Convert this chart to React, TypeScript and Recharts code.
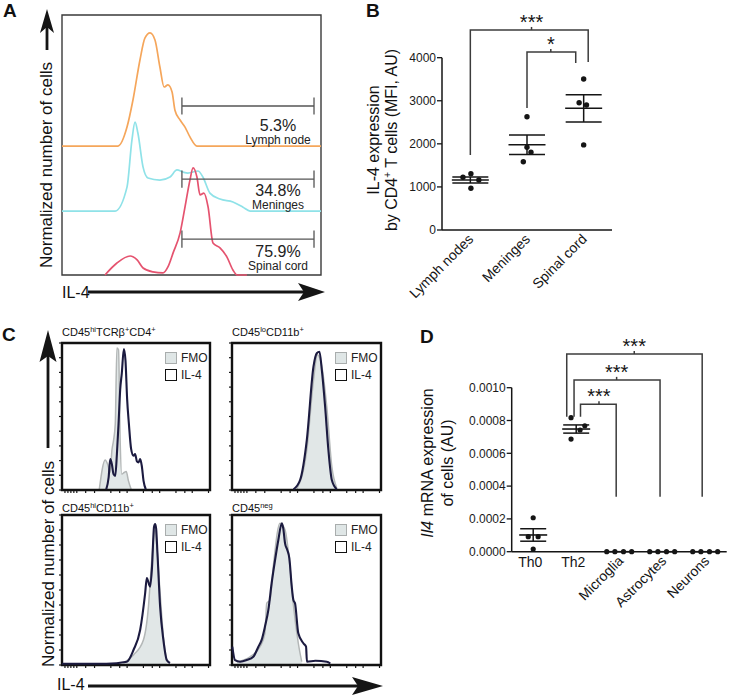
import React from "react";
import {
  ComposedChart,
  Line,
  Area,
  Scatter,
  XAxis,
  YAxis,
  ErrorBar,
  ReferenceArea,
  ReferenceLine,
  Legend,
} from "recharts";

const FONT = "'Liberation Sans', Arial, Helvetica, sans-serif";
const INK = "#151515";

/* ---------------- Panel A : IL-4 histograms (channel 0-1000, % of cells) ---------------- */
const aSampleNames = ["Lymph node", "Meninges", "Spinal cord"];
const aPercents = ["5.3%", "34.8%", "75.9%"];
const aOffsets = [49.6, 24.6, 0];
const aColors = ["#f5a65b", "#8fe2e8", "#e5536f"];
const lymphNodeHist = [
  [0, 0], [216, 0], [251, 7.3], [274, 17.7], [301, 33.1], [320, 41.5], [340, 43.5],
  [359, 40.8], [378, 30.4], [394, 22.7], [409, 23.5], [425, 20.8], [436, 13.8],
  [456, 10.0], [475, 7.3], [494, 3.5], [521, 0], [1000, 0],
];
const meningesHist = [
  [0, 0], [205, 0], [251, 9.2], [270, 27.3], [282, 34.2], [293, 30.0], [313, 16.9],
  [332, 12.7], [378, 11.9], [417, 13.1], [444, 15.8], [467, 15.0], [486, 14.6],
  [525, 15.4], [544, 13.1], [571, 6.9], [610, 4.6], [660, 3.5], [699, 1.5], [726, 0], [1000, 0],
];
const spinalCordHist = [
  [166, 0], [212, 4.6], [263, 7.3], [290, 5.8], [313, 2.7], [351, 1.2], [390, 0.8],
  [409, 3.1], [429, 8.5], [456, 16.2], [475, 26.2], [494, 36.5], [506, 41.2], [521, 37.7],
  [533, 30.8], [548, 31.5], [564, 26.2], [583, 12.3], [610, 10.4], [637, 6.9], [660, 1.9],
  [676, 0], [714, 0],
];
const aHists = [lymphNodeHist, meningesHist, spinalCordHist];
const aGateBounds = [463, 973];
const aGateLevels = [65.0, 36.9, 13.8];
const aLabelChannel = 834;

/* ---------------- Panel B : IL-4 MFI ---------------- */
const bCategories = ["Lymph nodes", "Meninges", "Spinal cord"];
const bLymphNodes = [1225, 1305, 1160, 970];
const bMeninges = [2630, 1920, 1805, 1585];
const bSpinalCord = [3505, 2955, 2900, 1975];
const bJitter = [
  [-0.13, 0.01, 0.15, 0.01],
  [0, 0, 0.07, -0.065],
  [0, -0.08, 0.05, 0],
];
const bMeans = [1160, 1980, 2825];
const bSem = [70, 225, 317];
const bYTicks = [0, 1000, 2000, 3000, 4000];
const bBracketFrom = [1.0, 2.0];
const bBracketTo = [3.08, 2.86];
const bBracketTop = [4643, 4132];
const bBracketLeftEnd = [1741, 2832];
const bBracketRightEnd = [3900, 3877];
const bBracketMid = [2.08, 2.42];
const bBracketStars = ["***", "*"];

/* ---------------- Panel C : FMO vs IL-4 histograms (% of box) ---------------- */
const cSeriesNames = ["FMO", "IL-4"];
const tcellFmo = [
  [25.2, 0.5], [29.2, 20.4], [30.8, 17.6], [32.6, 11.9], [33.7, 26.8], [34.8, 33.6], [36, 45],
  [37.1, 96.6], [38.2, 95.4], [39.3, 33.6], [40.4, 10.8], [42, 11.9], [43.4, 12.6], [44.9, 6.2], [46.7, 0.5],
];
const tcellIl4 = [
  [29.9, 0.5], [31.5, 8.5], [32.6, 21], [33.7, 17.6], [34.8, 10.8], [36, 9.6], [37.1, 24.5],
  [38.2, 45], [39.3, 68], [40.4, 79.4], [41.8, 95.9], [42.9, 88], [44, 62], [45.2, 45],
  [46.7, 28], [48.3, 23.3], [49.4, 24.5], [50.6, 19.5], [51.7, 18.8], [52.8, 21], [53.9, 16.5],
  [55.1, 6.2], [56.6, 0.5],
];
const loMicrogliaFmo = [
  [43.5, 0.7], [50.2, 27.2], [54.7, 74.8], [57.3, 92], [60.3, 84], [63.6, 56.7], [67, 15.9], [70.3, 1.4],
];
const loMicrogliaIl4 = [
  [41.3, 0.5], [45.7, 6.8], [50.2, 34], [54.7, 84], [56.9, 93], [58.7, 94], [60.3, 81.6],
  [62.5, 56.7], [64.7, 27.2], [67, 6.8], [70.3, 0.5],
];
const hiMacroFmo = [
  [41.5, 1.3], [48.3, 6.7], [55, 16.7], [58.4, 38.9], [60, 61.1], [61.8, 83.3], [62.9, 90],
  [64.1, 78.9], [66.3, 47.8], [68.5, 18.9], [70.8, 2.2],
];
const hiMacroIl4 = [
  [0, 0.8], [30, 0.8], [43.8, 2.2], [48.3, 10], [52.8, 23.3], [56.2, 48], [57.3, 58], [59.5, 52.2],
  [60.7, 63.3], [62.2, 92.2], [62.9, 94], [63.6, 91], [64.5, 74.5], [66.3, 38.9], [68.5, 16.7],
  [70.8, 3.3], [73, 1.3],
];
const negFmo = [
  [3.2, 2.2], [12.1, 5.5], [18.8, 12.2], [22.1, 21.1], [23.3, 41.1], [25.5, 43.3], [27.7, 65.5],
  [32.2, 94.5], [35.6, 90], [38.9, 65.5], [41.1, 41.1], [44.5, 14.5], [46.8, 2.2],
];
const negIl4 = [
  [0.2, 12.2], [2, 3.3], [5.4, 2.2], [9.9, 3.3], [14.3, 5.5], [17.7, 12.2], [19.9, 16.7],
  [22.1, 25.5], [24.4, 36.7], [26.6, 54.5], [28.9, 70], [31.1, 83.3], [33.4, 94.5], [34.4, 91.1],
  [35.6, 81.1], [37.1, 76.7], [38.5, 71.1], [40.1, 52.2], [41.2, 43.3], [42.3, 41.1], [44.5, 21.1],
  [47.9, 14.5], [49.7, 12.2], [50.3, 2.2], [56, 2.8], [63.6, 2.2], [66, 1],
];
const cXTicks = [2, 4, 6, 8, 10, 16, 22, 33, 39, 44, 55, 61, 66, 77, 83, 88, 99];
const cYTicks = [0, 10, 20, 30, 40, 50, 60, 70, 80, 90, 100];

/* ---------------- Panel D : Il4 mRNA ---------------- */
const dCategories = ["Th0", "Th2", "Microglia", "Astrocytes", "Neurons"];
const dTh0 = [0.000207, 0.0000915, 0.0000915, 0.0000165];
const dTh2 = [0.000817, 0.000768, 0.000742, 0.000687];
const dMicroglia = [0, 0, 0, 0];
const dAstrocytes = [0, 0, 0, 0];
const dNeurons = [0, 0, 0, 0];
const dJitter = [
  [0, -0.115, 0.115, 0],
  [-0.12, 0.2, 0.09, -0.12],
  [-0.29, -0.1, 0.1, 0.29],
  [-0.29, -0.1, 0.1, 0.29],
  [-0.29, -0.1, 0.1, 0.29],
];
const dMeans = [0.000102, 0.000748, 0, 0, 0];
const dSem = [0.000038, 0.000025, 0, 0, 0];
const dYTicks = [0, 0.0002, 0.0004, 0.0006, 0.0008, 0.001];
const dBracketFrom = [2.1, 1.95, 1.78];
const dBracketTo = [2.93, 3.95, 4.93];
const dBracketTop = [0.000899, 0.001047, 0.001205];
const dBracketLeftEnd = [0.000823, 0.000823, 0.000823];
const dBracketRightEnd = [0.000335, 0.000335, 0.000335];
const dBracketMid = [2.53, 2.94, 3.35];
const dBracketStars = ["***", "***", "***"];

/* ---------------- helpers ---------------- */
const toXY = (pts: number[][]) => pts.map(([x, y]) => ({ x, y }));

const dotShape = (r: number) => (p: any) => <circle cx={p.cx} cy={p.cy} r={r} fill={INK} />;
const meanShape = (half: number) => (p: any) => (
  <line x1={p.cx - half} x2={p.cx + half} y1={p.cy} y2={p.cy} stroke={INK} strokeWidth={1.6} />
);
const starShape = (p: any) => (
  <text x={p.cx} y={p.cy - 1} textAnchor="middle" fontSize={20} fontFamily={FONT} fill={INK}>
    {p.payload.label}
  </text>
);
const noLabel = () => <g />;

function bracketSeries(
  from: number[], to: number[], top: number[], leftEnd: number[], rightEnd: number[],
  mid: number[], tick: number, keyPrefix: string
) {
  const out: any[] = [];
  from.forEach((f, i) => {
    out.push(
      <Line
        key={`${keyPrefix}b${i}`}
        data={[
          { x: f, y: leftEnd[i] },
          { x: f, y: top[i] },
          { x: to[i], y: top[i] },
          { x: to[i], y: rightEnd[i] },
        ]}
        dataKey="y"
        type="linear"
        stroke="#3c3c3c"
        strokeWidth={1.5}
        dot={false}
        activeDot={false}
        isAnimationActive={false}
      />
    );
    out.push(
      <Line
        key={`${keyPrefix}t${i}`}
        data={[
          { x: mid[i], y: top[i] },
          { x: mid[i], y: top[i] + tick },
        ]}
        dataKey="y"
        type="linear"
        stroke="#3c3c3c"
        strokeWidth={1.5}
        dot={false}
        activeDot={false}
        isAnimationActive={false}
      />
    );
  });
  return out;
}

/* ---------------- Panel A ---------------- */
function PanelA() {
  const labelDy = [[19, 34], [11, 26], [12, 27]];
  const gateTick = 3.3;
  return (
    <div style={{ position: "absolute", left: 0, top: 0 }}>
      <ComposedChart width={340} height={300} margin={{ top: 15, left: 62, right: 19, bottom: 25 }}>
        <XAxis type="number" dataKey="x" domain={[0, 1000]} hide />
        <YAxis type="number" dataKey="y" domain={[0, 100]} hide />
        <ReferenceArea x1={0} x2={1000} y1={0} y2={100} fill="none" fillOpacity={0} stroke="#3a3a3a" strokeWidth={1.4} />
        {aHists.map((h, i) => (
          <Line
            key={`h${i}`}
            data={h.map(([x, n]) => ({ x, y: aOffsets[i] + n }))}
            dataKey="y"
            type="monotone"
            stroke={aColors[i]}
            strokeWidth={1.7}
            dot={false}
            activeDot={false}
            isAnimationActive={false}
          />
        ))}
        {aGateLevels.map((g, i) => (
          <Line
            key={`g${i}`}
            data={[
              { x: aGateBounds[0], y: g + gateTick },
              { x: aGateBounds[0], y: g - gateTick },
              { x: aGateBounds[0], y: g },
              { x: aGateBounds[1], y: g },
              { x: aGateBounds[1], y: g + gateTick },
              { x: aGateBounds[1], y: g - gateTick },
            ]}
            dataKey="y"
            type="linear"
            stroke="#555"
            strokeWidth={1.3}
            dot={false}
            activeDot={false}
            isAnimationActive={false}
          />
        ))}
        <Scatter
          data={aGateLevels.map((g, i) => ({ x: aLabelChannel, y: g, i }))}
          isAnimationActive={false}
          shape={(p: any) => {
            const i = p.payload.i;
            return (
              <g>
                <text x={p.cx} y={p.cy + labelDy[i][0]} textAnchor="middle" dominantBaseline="central"
                  fontSize={16} fontFamily={FONT} fill="#222">{aPercents[i]}</text>
                <text x={p.cx} y={p.cy + labelDy[i][1]} textAnchor="middle" dominantBaseline="central"
                  fontSize={12} fontFamily={FONT} fill="#222">{aSampleNames[i]}</text>
              </g>
            );
          }}
        />
      </ComposedChart>
    </div>
  );
}

/* ---------------- Panel B ---------------- */
function PanelB() {
  const groups = [bLymphNodes, bMeninges, bSpinalCord];
  const dots = groups.flatMap((vals, gi) => vals.map((v, j) => ({ x: gi + 1 + bJitter[gi][j], y: v })));
  const means = bMeans.map((m, i) => ({ x: i + 1, y: m, sem: bSem[i] }));
  const stars = bBracketMid.map((m, i) => ({ x: m, y: bBracketTop[i], label: bBracketStars[i] }));
  const BTick = (p: any) => {
    const label = bCategories[Math.round(p.payload.value) - 1];
    const tx = p.x + 4;
    const ty = p.y + 10;
    return (
      <text x={tx} y={ty} textAnchor="end" transform={`rotate(-45 ${tx} ${ty})`}
        fontSize={14} fontFamily={FONT} fill={INK}>{label}</text>
    );
  };
  return (
    <div style={{ position: "absolute", left: 340, top: 0 }}>
      <ComposedChart width={392} height={340} margin={{ top: 14.6, left: 42, right: 120, bottom: 10 }}>
        <XAxis type="number" dataKey="x" domain={[0.5, 3.5]} ticks={[1, 2, 3]} interval={0}
          tickLine={false} tickSize={0} tickMargin={0} height={100}
          axisLine={{ stroke: INK, strokeWidth: 1.5 }} tick={(p: any) => <BTick {...p} />} />
        <YAxis type="number" dataKey="y" domain={[0, 5000]} ticks={bYTicks} interval={0}
          axisLine={false} tickSize={5} tickMargin={1} width={60}
          tickLine={{ stroke: INK, strokeWidth: 1.3 }}
          tick={{ fontSize: 12, fontFamily: FONT, fill: "#1a1a1a" }} />
        <ReferenceLine segment={[{ x: 0.5, y: 0 }, { x: 0.5, y: 4000 }]} stroke={INK} strokeWidth={1.5} ifOverflow="visible" />
        {bracketSeries(bBracketFrom, bBracketTo, bBracketTop, bBracketLeftEnd, bBracketRightEnd, bBracketMid, 70, "b")}
        <Scatter data={stars} isAnimationActive={false} shape={starShape} />
        <Scatter data={dots} isAnimationActive={false} shape={dotShape(2.7)} />
        <Scatter data={means} isAnimationActive={false} shape={meanShape(18.5)}>
          <ErrorBar dataKey="sem" direction="y" width={18} stroke={INK} strokeWidth={1.5} isAnimationActive={false} />
        </Scatter>
      </ComposedChart>
    </div>
  );
}

/* ---------------- Panel C ---------------- */
const CLegend = () => (
  <div style={{ fontFamily: FONT, fontSize: 12, color: "#222" }}>
    {cSeriesNames.map((n, i) => (
      <div key={n} style={{ display: "flex", alignItems: "center", height: 17 }}>
        <span
          style={{
            display: "inline-block",
            width: 12,
            height: 12,
            boxSizing: "border-box",
            border: i === 0 ? "1.5px solid #a9adad" : "1.8px solid #111",
            background: i === 0 ? "#dfe6e6" : "#fff",
            marginRight: 4,
          }}
        />
        {n}
      </div>
    ))}
  </div>
);

function FlowPanel({ left, top, w, h, fmo, il4 }: any) {
  return (
    <div style={{ position: "absolute", left: left - 10, top: top - 4 }}>
      <ComposedChart width={w + 20} height={h + 14} margin={{ top: 4, left: 4, right: 10, bottom: 4 }}>
        <XAxis type="number" dataKey="x" domain={[0, 100]} ticks={cXTicks} interval={0} tick={noLabel}
          tickSize={3} tickMargin={0} axisLine={false} tickLine={{ stroke: INK, strokeWidth: 1.2 }} height={6} />
        <YAxis type="number" dataKey="y" domain={[0, 100]} ticks={cYTicks} interval={0} tick={noLabel}
          tickSize={3} tickMargin={0} axisLine={false} tickLine={{ stroke: INK, strokeWidth: 1.2 }} width={6} />
        <Area data={toXY(fmo)} dataKey="y" name="FMO" type="monotone" stroke="#b3b7b7" strokeWidth={1.5}
          fill="#e1e7e7" fillOpacity={1} dot={false} activeDot={false} isAnimationActive={false} />
        <Line data={toXY(il4)} dataKey="y" name="IL-4" type="monotone" stroke="#1c1b40" strokeWidth={2.1}
          dot={false} activeDot={false} isAnimationActive={false} />
        <ReferenceArea x1={0} x2={100} y1={0} y2={100} fill="none" fillOpacity={0} stroke="#111" strokeWidth={2.4} />
        <Legend layout="vertical" verticalAlign="middle" align="center"
          wrapperStyle={{ left: 113, top: 10, width: 60, height: 36 }} content={CLegend} />
      </ComposedChart>
    </div>
  );
}

/* ---------------- Panel D ---------------- */
function PanelD() {
  const groups = [dTh0, dTh2, dMicroglia, dAstrocytes, dNeurons];
  const dots = groups.flatMap((vals, gi) => vals.map((v, j) => ({ x: gi + 1 + dJitter[gi][j], y: v })));
  const means = dMeans.map((m, i) => ({ x: i + 1, y: m, sem: dSem[i] }));
  const stars = dBracketMid.map((m, i) => ({ x: m, y: dBracketTop[i], label: dBracketStars[i] }));
  const DTick = (p: any) => {
    const i = Math.round(p.payload.value) - 1;
    const label = dCategories[i];
    if (i < 2) {
      return (
        <text x={p.x - 3} y={p.y + 15} textAnchor="middle" fontSize={14} fontFamily={FONT} fill={INK}>{label}</text>
      );
    }
    const tx = p.x + 5;
    const ty = p.y + 10;
    return (
      <text x={tx} y={ty} textAnchor="end" transform={`rotate(-45 ${tx} ${ty})`}
        fontSize={14} fontFamily={FONT} fill={INK}>{label}</text>
    );
  };
  return (
    <div style={{ position: "absolute", left: 340, top: 320 }}>
      <ComposedChart width={392} height={378} margin={{ top: 10.3, left: 111.7, right: 5.3, bottom: 46.3 }}>
        <XAxis type="number" dataKey="x" domain={[0.5, 5.5]} ticks={[1, 2, 3, 4, 5]} interval={0}
          tickLine={false} tickSize={0} tickMargin={0} height={100}
          axisLine={{ stroke: INK, strokeWidth: 1.5 }} tick={(p: any) => <DTick {...p} />} />
        <YAxis type="number" dataKey="y" domain={[0, 0.00135]} ticks={dYTicks} interval={0}
          axisLine={false} tickSize={5} tickMargin={1} width={60}
          tickFormatter={(v: number) => v.toFixed(4)}
          tickLine={{ stroke: INK, strokeWidth: 1.3 }}
          tick={{ fontSize: 12, fontFamily: FONT, fill: "#1a1a1a" }} />
        <ReferenceLine segment={[{ x: 0.5, y: 0 }, { x: 0.5, y: 0.001 }]} stroke={INK} strokeWidth={1.5} ifOverflow="visible" />
        {bracketSeries(dBracketFrom, dBracketTo, dBracketTop, dBracketLeftEnd, dBracketRightEnd, dBracketMid, 0.000019, "d")}
        <Scatter data={stars} isAnimationActive={false} shape={starShape} />
        <Scatter data={means} isAnimationActive={false} shape={meanShape(14)}>
          <ErrorBar dataKey="sem" direction="y" width={13} stroke={INK} strokeWidth={1.5} isAnimationActive={false} />
        </Scatter>
        <Scatter data={dots} isAnimationActive={false} shape={dotShape(2.6)} />
      </ComposedChart>
    </div>
  );
}

/* ---------------- decorations (labels, arrows) ---------------- */
function ArrowUp({ x, tip, base, head, half }: any) {
  return (
    <g>
      <line x1={x} x2={x} y1={base} y2={tip + head - 6} stroke={INK} strokeWidth={2.8} />
      <path d={`M${x} ${tip} L${x + half} ${tip + head} L${x} ${tip + head - 6} L${x - half} ${tip + head} Z`} fill={INK} />
    </g>
  );
}
function ArrowRight({ y, start, tip, head, half }: any) {
  return (
    <g>
      <line x1={start} x2={tip - head + 6} y1={y} y2={y} stroke={INK} strokeWidth={2.8} />
      <path d={`M${tip} ${y} L${tip - head} ${y - half} L${tip - head + 6} ${y} L${tip - head} ${y + half} Z`} fill={INK} />
    </g>
  );
}

function Overlay() {
  const letter = { fontSize: 19, fontWeight: 700, fontFamily: FONT, fill: "#111" } as any;
  const ax = { fontSize: 17, fontFamily: FONT, fill: "#111" } as any;
  const sub = { fontSize: 11, fontFamily: FONT, fill: "#111" } as any;
  return (
    <svg width={732} height={698} style={{ position: "absolute", left: 0, top: 0 }}>
      <text x={3} y={17} {...letter}>A</text>
      <text x={366} y={17} {...letter}>B</text>
      <text x={2} y={341} {...letter}>C</text>
      <text x={420} y={343} {...letter}>D</text>

      {/* Panel A axes */}
      <ArrowUp x={47} tip={9} base={50} head={24} half={7} />
      <text x={52} y={165} transform="rotate(-90 52 165)" textAnchor="middle" {...ax}>Normalized number of cells</text>
      <text x={62} y={298} fontSize={16} fontFamily={FONT} fill="#111">IL-4</text>
      <ArrowRight y={292} start={88} tip={325} head={27} half={9} />

      {/* Panel B y title */}
      <text x={379} y={140} transform="rotate(-90 379 140)" textAnchor="middle" fontSize={16} fontFamily={FONT} fill="#111">IL-4 expression</text>
      <text x={396.5} y={140} transform="rotate(-90 396.5 140)" textAnchor="middle" fontSize={16} fontFamily={FONT} fill="#111">
        by CD4<tspan fontSize={10} dy={-6}>+</tspan><tspan dy={6}> T cells (MFI, AU)</tspan>
      </text>

      {/* Panel C axes */}
      <ArrowUp x={48} tip={330} base={448} head={32} half={8.5} />
      <text x={54} y={564} transform="rotate(-90 54 564)" textAnchor="middle" {...ax}>Normalized number of cells</text>
      <text x={57} y={690} fontSize={16} fontFamily={FONT} fill="#111">IL-4</text>
      <ArrowRight y={686} start={88} tip={383} head={31} half={9} />

      {/* Panel C subtitles */}
      <text x={62} y={336} {...sub}>
        CD45<tspan fontSize={7.5} dy={-4}>hi</tspan><tspan dy={4}>TCRβ</tspan><tspan fontSize={7.5} dy={-4}>+</tspan><tspan dy={4}>CD4</tspan><tspan fontSize={7.5} dy={-4}>+</tspan>
      </text>
      <text x={232} y={336} {...sub}>
        CD45<tspan fontSize={7.5} dy={-4}>lo</tspan><tspan dy={4}>CD11b</tspan><tspan fontSize={7.5} dy={-4}>+</tspan>
      </text>
      <text x={62} y={512} {...sub}>
        CD45<tspan fontSize={7.5} dy={-4}>hi</tspan><tspan dy={4}>CD11b</tspan><tspan fontSize={7.5} dy={-4}>+</tspan>
      </text>
      <text x={232} y={512} {...sub}>
        CD45<tspan fontSize={7.5} dy={-4}>neg</tspan>
      </text>

      {/* Panel D y title */}
      <text x={433} y={463} transform="rotate(-90 433 463)" textAnchor="middle" fontSize={16} fontFamily={FONT} fill="#111">
        <tspan fontStyle="italic">Il4</tspan> mRNA expression
      </text>
      <text x={453} y={463} transform="rotate(-90 453 463)" textAnchor="middle" fontSize={16} fontFamily={FONT} fill="#111">of cells (AU)</text>
    </svg>
  );
}

export default function App() {
  return (
    <div style={{ position: "absolute", left: 0, top: 0, width: 732, height: 698, background: "#fff", overflow: "hidden" }}>
      <Overlay />
      <PanelA />
      <PanelB />
      <FlowPanel left={62} top={343} w={148} h={147} fmo={tcellFmo} il4={tcellIl4} />
      <FlowPanel left={232} top={343} w={149} h={147} fmo={loMicrogliaFmo} il4={loMicrogliaIl4} />
      <FlowPanel left={62} top={515} w={148} h={150} fmo={hiMacroFmo} il4={hiMacroIl4} />
      <FlowPanel left={232} top={515} w={149} h={150} fmo={negFmo} il4={negIl4} />
      <PanelD />
    </div>
  );
}
